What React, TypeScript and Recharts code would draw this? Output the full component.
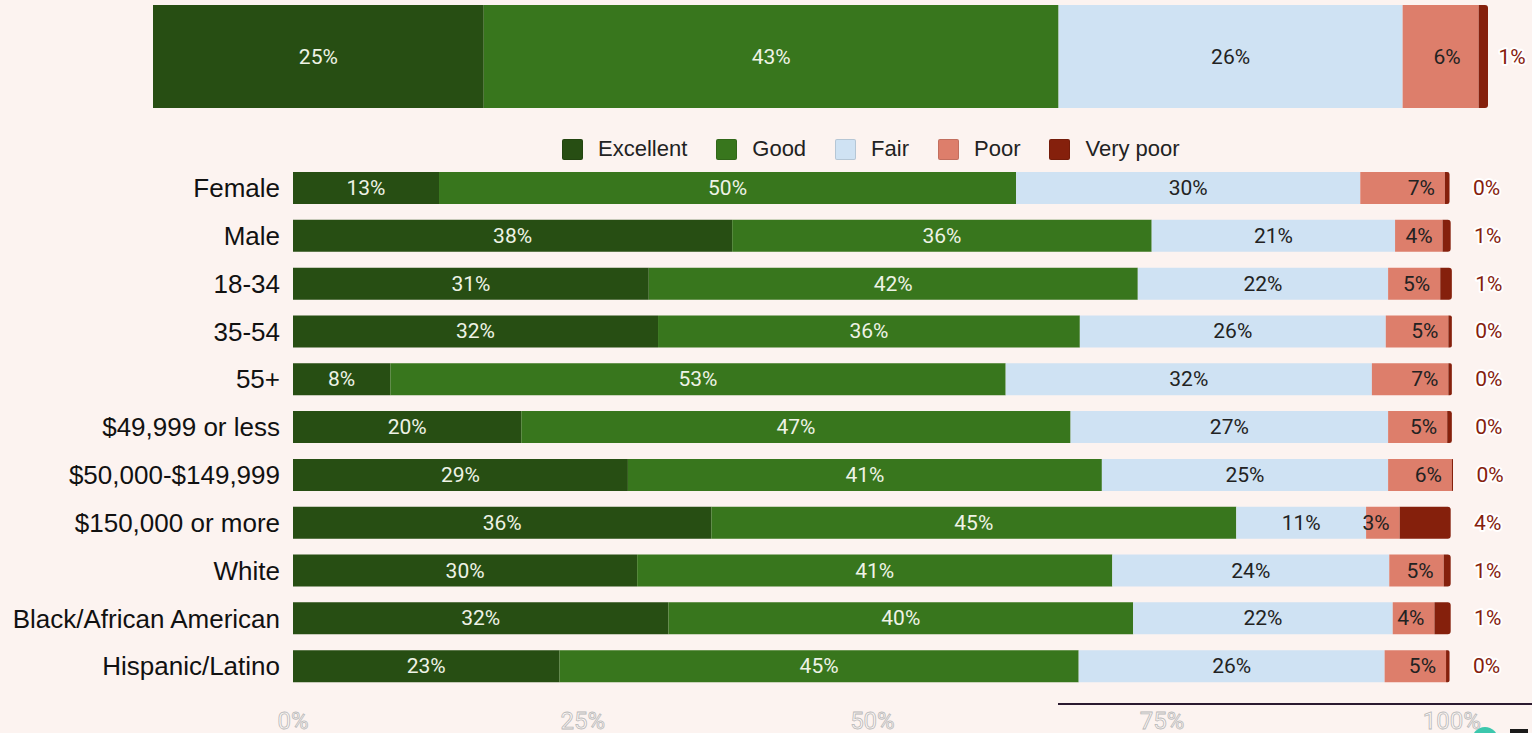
import React from 'react';
import { BarChart, Bar, XAxis, YAxis, LabelList } from 'recharts';

const categories = ['Female', 'Male', '18-34', '35-54', '55+', '$49,999 or less', '$50,000-$149,999', '$150,000 or more', 'White', 'Black/African American', 'Hispanic/Latino'];
const excellent = [12.6, 37.9, 30.7, 31.5, 8.4, 19.7, 28.9, 36.1, 29.7, 32.4, 23.0];
const good = [49.8, 36.2, 42.2, 36.4, 53.1, 47.4, 40.9, 45.3, 41.0, 40.1, 44.8];
const fair = [29.7, 21.0, 21.6, 26.4, 31.6, 27.4, 24.7, 11.2, 23.9, 22.4, 26.4];
const poor = [7.3, 4.1, 4.5, 5.4, 6.6, 5.1, 5.5, 2.9, 4.7, 3.6, 5.3];
const veryPoor = [0.4, 0.7, 1.0, 0.3, 0.3, 0.4, 0.1, 4.4, 0.6, 1.4, 0.3];

const overallExcellent = 24.8;
const overallGood = 43.1;
const overallFair = 25.8;
const overallPoor = 5.7;
const overallVeryPoor = 0.7;

const xTicks = [0, 25, 50, 75, 100];

const seriesKeys = ['excellent', 'good', 'fair', 'poor', 'veryPoor'];
const seriesNames = ['Excellent', 'Good', 'Fair', 'Poor', 'Very poor'];
const seriesColors = ['#274e13', '#38761d', '#cfe2f3', '#dd7e6b', '#85200c'];
const labelColors = ['#eef3e6', '#eef3e6', '#222222', '#222222', '#85200c'];

const BG = '#fcf3f0';

const rows = categories.map((c, i) => ({
  name: c,
  excellent: excellent[i],
  good: good[i],
  fair: fair[i],
  poor: poor[i],
  veryPoor: veryPoor[i],
}));

const overallRow = [
  {
    name: 'All',
    excellent: overallExcellent,
    good: overallGood,
    fair: overallFair,
    poor: overallPoor,
    veryPoor: overallVeryPoor,
  },
];

const fmt = (v: any) => `${Math.round(Number(v))}%`;

const makeLabel = (idx: number, poorPad: number, outside: number) => (props: any) => {
  const { x, y, width, height, value } = props;
  const cy = Number(y) + Number(height) / 2;
  let tx = Number(x) + Number(width) / 2;
  let anchor: any = 'middle';
  if (idx === 3) {
    tx = Number(x) + Number(width) - poorPad;
    anchor = 'end';
  }
  if (idx === 4) {
    tx = Number(x) + Number(width) + outside;
    return (
      <text
        x={tx}
        y={cy}
        textAnchor="middle"
        dominantBaseline="central"
        fontFamily="Roboto, sans-serif"
        fontSize={21}
        fill={labelColors[idx]}
        stroke="#ffffff"
        strokeWidth={4}
        strokeLinejoin="round"
        paintOrder="stroke"
      >
        {fmt(value)}
      </text>
    );
  }
  return (
    <text
      x={tx}
      y={cy}
      textAnchor={anchor}
      dominantBaseline="central"
      fontFamily="Roboto, sans-serif"
      fontSize={21}
      fill={labelColors[idx]}
    >
      {fmt(value)}
    </text>
  );
};

const XTick = (props: any) => {
  const { x, y, payload } = props;
  return (
    <text
      x={x}
      y={Number(y) + 31}
      textAnchor="middle"
      fontFamily="Roboto, sans-serif"
      fontSize={24}
      fill="#fdf7f5"
      stroke="#b8b8b8"
      strokeWidth={0.8}
    >
      {`${payload.value}%`}
    </text>
  );
};

export default function App() {
  return (
    <div
      style={{
        position: 'fixed',
        left: 0,
        top: 0,
        width: 1532,
        height: 733,
        background: BG,
        overflow: 'hidden',
        fontFamily: '"Liberation Sans", Arial, sans-serif',
      }}
    >
      <div style={{ position: 'absolute', left: 0, top: 0 }}>
        <BarChart
          width={1532}
          height={113}
          data={overallRow}
          layout="vertical"
          margin={{ top: 5, right: 44, bottom: 5, left: 153 }}
          barCategoryGap={0}
        >
          <XAxis type="number" domain={[0, 100]} hide />
          <YAxis type="category" dataKey="name" hide width={0} />
          {seriesKeys.map((k, i) => (
            <Bar
              key={k}
              dataKey={k}
              stackId="a"
              fill={seriesColors[i]}
              isAnimationActive={false}
              radius={i === 4 ? [0, 3, 3, 0] : 0}
            >
              <LabelList dataKey={k} content={makeLabel(i, 18, 24)} />
            </Bar>
          ))}
        </BarChart>
      </div>

      <div
        style={{
          position: 'absolute',
          left: 562,
          top: 137,
          display: 'flex',
          alignItems: 'center',
          height: 24,
        }}
      >
        {seriesNames.map((n, i) => (
          <div key={n} style={{ display: 'flex', alignItems: 'center', marginRight: 29 }}>
            <div
              style={{
                width: 21,
                height: 21,
                background: seriesColors[i],
                border: '1px solid rgba(0,0,0,0.12)',
                borderRadius: 2,
                boxSizing: 'border-box',
                marginRight: 15,
              }}
            />
            <span style={{ fontSize: 22, color: '#222' }}>{n}</span>
          </div>
        ))}
      </div>

      <div style={{ position: 'absolute', left: 0, top: 164 }}>
        <BarChart
          width={1532}
          height={569}
          data={rows}
          layout="vertical"
          margin={{ top: 0, right: 79, bottom: 13, left: 0 }}
          barCategoryGap={0}
        >
          <XAxis
            type="number"
            domain={[0, 100]}
            ticks={xTicks}
            axisLine={false}
            tickLine={false}
            height={30}
            tick={<XTick />}
          />
          <YAxis
            type="category"
            dataKey="name"
            width={293}
            axisLine={false}
            tickLine={false}
            tickMargin={7}
            interval={0}
            tick={{ fill: '#111', fontSize: 26, fontFamily: '"Liberation Sans", Arial, sans-serif' }}
          />
          {seriesKeys.map((k, i) => (
            <Bar
              key={k}
              dataKey={k}
              stackId="a"
              fill={seriesColors[i]}
              barSize={32}
              isAnimationActive={false}
              radius={i === 4 ? [0, 3, 3, 0] : 0}
            >
              <LabelList dataKey={k} content={makeLabel(i, 10, 37)} />
            </Bar>
          ))}
        </BarChart>
      </div>

      <div
        style={{
          position: 'absolute',
          left: 1058,
          top: 703,
          width: 474,
          height: 2,
          background: '#2b1a30',
        }}
      />
      <div
        style={{
          position: 'absolute',
          left: 1472,
          top: 727,
          width: 26,
          height: 26,
          borderRadius: 13,
          background: '#3cc7ad',
        }}
      />
      <div
        style={{
          position: 'absolute',
          left: 1510,
          top: 729,
          width: 18,
          height: 4,
          background: '#1a1a1a',
        }}
      />
    </div>
  );
}
